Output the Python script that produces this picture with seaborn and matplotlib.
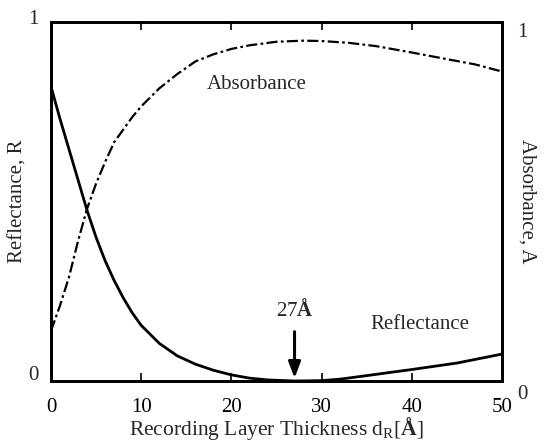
import numpy as np
import pandas as pd
import matplotlib
matplotlib.use("Agg")
import matplotlib.pyplot as plt
import matplotlib.transforms as mtransforms
import seaborn as sns

# Data
thick_R = [0, 1, 2, 3, 4, 5, 6, 7, 8, 9, 10, 12, 14, 16, 18, 20, 22, 24, 27, 30, 32, 35, 40, 45, 50]
reflectance = [0.82, 0.73, 0.645, 0.56, 0.475, 0.40, 0.335, 0.28, 0.232, 0.19, 0.155, 0.105,
               0.07, 0.047, 0.03, 0.017, 0.008, 0.003, 0.0, 0.001, 0.005, 0.015, 0.032, 0.05, 0.075]

thick_A = [0, 1, 2, 3, 4, 5, 6, 7, 8, 9, 10, 12, 14, 16, 18, 20, 22, 25, 28, 30, 33, 36, 40, 44, 47, 50]
absorbance = [0.14, 0.21, 0.29, 0.39, 0.48, 0.55, 0.61, 0.665, 0.70, 0.735, 0.765, 0.815, 0.855,
              0.89, 0.91, 0.925, 0.935, 0.945, 0.948, 0.947, 0.942, 0.933, 0.915, 0.896, 0.882, 0.862]

x_ticks = [0, 10, 20, 30, 40, 50]
y_ticks = [0, 1]
marked_thickness = 27

dfR = pd.DataFrame({"d": thick_R, "R": reflectance})
dfA = pd.DataFrame({"d": thick_A, "A": absorbance})

sns.set_theme(style="white")
plt.rcParams["font.family"] = ["Liberation Serif", "DejaVu Serif"]
plt.rcParams["mathtext.fontset"] = "custom"
plt.rcParams["mathtext.rm"] = "Liberation Serif"
plt.rcParams["mathtext.bf"] = "Liberation Serif:bold"
plt.rcParams["mathtext.it"] = "Liberation Serif:italic"

fig = plt.figure(figsize=(5.44, 4.42), dpi=100)
ax = fig.add_axes([51/544, 1-381/442, (502-51)/544, (381-22)/442])
ax2 = ax.twinx()

sns.lineplot(data=dfR, x="d", y="R", ax=ax, color="black", lw=2.0)
sns.lineplot(data=dfA, x="d", y="A", ax=ax2, color="black", lw=1.6)
ax2.lines[0].set_dashes([5, 1.5, 1.2, 1.5])

for a in (ax, ax2):
    a.set_xlim(0, 50)
    a.set_ylim(0, 1)
    a.set_xlabel("")
    a.set_ylabel("")
    for s in a.spines.values():
        s.set_color("black")
        s.set_linewidth(2.0)

ax.set_xticks(x_ticks)
ax.set_xticklabels([str(t) for t in x_ticks], fontsize=15)
ax.tick_params(axis="x", direction="in", top=True, bottom=True, length=6, width=1.2,
               pad=12, colors="black")
ax.set_yticks(y_ticks)
ax.set_yticklabels([str(t) for t in y_ticks], fontsize=15)
ax.tick_params(axis="y", length=0, pad=9)
ax2.set_yticks(y_ticks)
ax2.set_yticklabels([str(t) for t in y_ticks], fontsize=15)
ax2.tick_params(axis="y", length=0, pad=11)

# nudge tick labels like reference
for lab in ax.get_yticklabels():
    dy = 8 if lab.get_text() == "0" else 5
    lab.set_transform(lab.get_transform() + mtransforms.ScaledTranslation(0, dy/100, fig.dpi_scale_trans))
for lab in ax2.get_yticklabels():
    dy = -11 if lab.get_text() == "0" else -8
    lab.set_transform(lab.get_transform() + mtransforms.ScaledTranslation(0, dy/100, fig.dpi_scale_trans))

ax.set_xlabel("Recording Layer Thickness d$_{\\mathrm{R}}$[$\\mathbf{\\AA}$]", fontsize=15.5)
ax.xaxis.set_label_coords(0.5, -48/359, transform=ax.transAxes)
ax.xaxis.label.set_va("center")
ax.set_ylabel("Reflectance, R", fontsize=15)
ax.yaxis.set_label_coords(-33/451, 0.5)
ax.yaxis.label.set_va("center")
ax2.set_ylabel("Absorbance, A", fontsize=15, rotation=-90)
ax2.yaxis.set_label_coords(1 + 25/451, 0.5)
ax2.yaxis.label.set_va("center")

ax.text(22.8, 0.825, "Absorbance", fontsize=15, ha="center", va="center")
ax.text(40.9, 0.156, "Reflectance", fontsize=15, ha="center", va="center")
ax.text(marked_thickness, 0.198, "27$\\mathbf{\\AA}$", fontsize=15, ha="center", va="center")
ax.annotate("", xy=(marked_thickness, 0.0), xytext=(marked_thickness, 0.145),
            arrowprops=dict(arrowstyle="-|>,head_length=0.8,head_width=0.3", color="black", lw=2.2))

fig.savefig("out.png", dpi=100)
